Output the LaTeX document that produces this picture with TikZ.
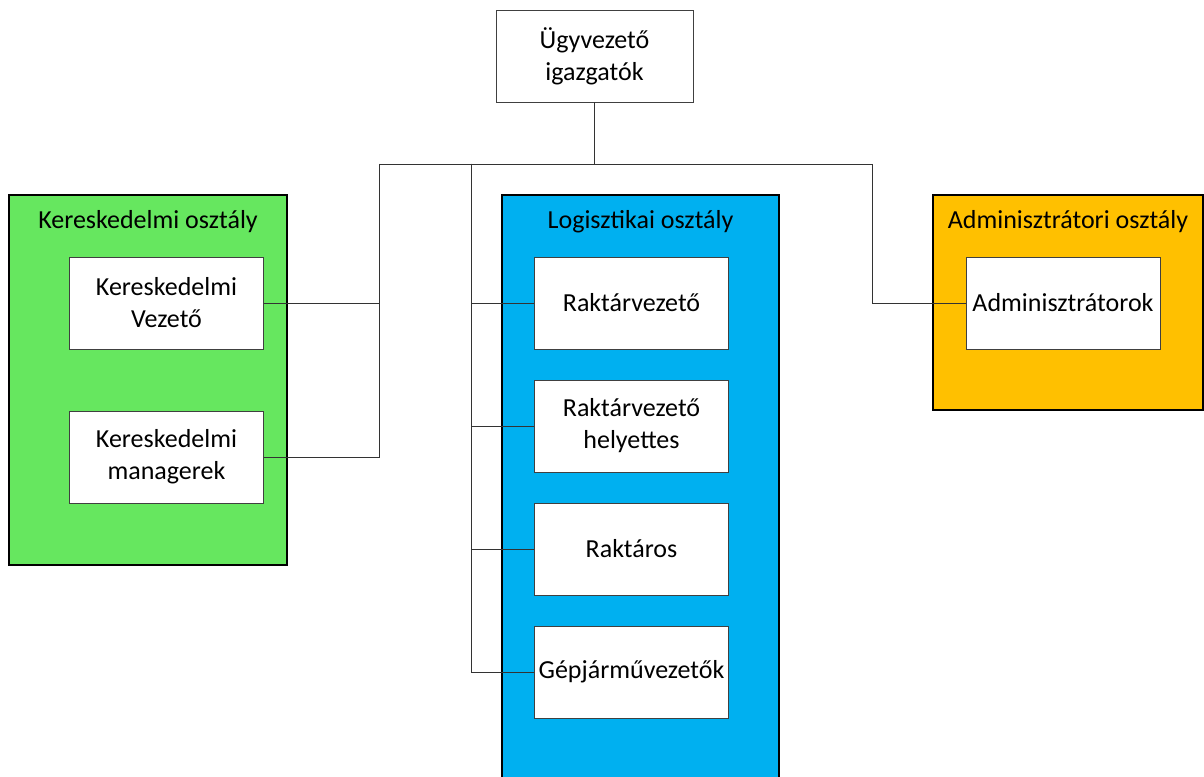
\documentclass[tikz,border=0pt]{standalone}
\usepackage{fontspec}
\setmainfont{Carlito}
\usepackage{xcolor}
\usetikzlibrary{positioning}
\definecolor{kerzold}{HTML}{66E75F}
\definecolor{logkek}{HTML}{00B0F0}
\definecolor{admsarga}{HTML}{FFC000}
\tikzset{
  unit/.style={draw=black!75,fill=white,line width=0.6pt,minimum width=194*0.75pt,minimum height=92*0.75pt,align=center,inner sep=0pt},
  dept/.style={draw=black,line width=1pt,inner sep=0pt},
  depttitle/.style={below=16*0.75pt,inner sep=0pt},
  link/.style={draw=black!80,line width=0.6pt}
}
\begin{document}
\begin{tikzpicture}[x=0.75pt,y=-0.75pt,font=\fontsize{19.5}{24}\selectfont]
        \useasboundingbox (0,0) rectangle (1204,777);
        % osztalyok
        \node[dept,fill=kerzold,minimum width=278*0.75pt,minimum height=370*0.75pt] (ker) at (148,380) {};
        \node[dept,fill=logkek,minimum width=277*0.75pt,minimum height=610*0.75pt] (log) at (640.5,500) {};
        \node[dept,fill=admsarga,minimum width=270*0.75pt,minimum height=215*0.75pt] (adm) at (1068,302.5) {};
        \node[depttitle] (kertitle) at (ker.north) {Kereskedelmi osztály};
        \node[depttitle] (logtitle) at (log.north) {Logisztikai osztály};
        \node[depttitle] (admtitle) at (adm.north) {Adminisztrátori osztály};
        % vezetes
        \node[unit,minimum width=197*0.75pt] (ugyv) at (594.5,56) {Ügyvezető\\igazgatók};
        \node[unit] (kv) at (166.5,303) {Kereskedelmi\\Vezető};
        \node[unit] (km) at (166.5,457) {Kereskedelmi\\managerek};
        \node[unit] (rv) at (631.5,303) {Raktárvezető};
        \node[unit] (rvh) at (631.5,426) {Raktárvezető\\helyettes};
        \node[unit] (rs) at (631.5,549) {Raktáros};
        \node[unit] (gj) at (631.5,672) {Gépjárművezetők};
        \node[unit] (admin) at (1063,303) {Adminisztrátorok};
        % vonalak
        \coordinate (kbus) at (379,164);
        \coordinate (lbus) at (471,164);
        \coordinate (abus) at (872,164);
        \draw[link] (ugyv.south) |- (kbus);
        \draw[link] (ugyv.south) |- (abus);
        \draw[link] (kbus) |- (kv.east);
        \draw[link] (kbus) |- (km.east);
        \draw[link] (lbus) |- (rv.west);
        \draw[link] (lbus) |- (rvh.west);
        \draw[link] (lbus) |- (rs.west);
        \draw[link] (lbus) |- (gj.west);
        \draw[link] (abus) |- (admin.west);
    \end{tikzpicture}
\end{document}
